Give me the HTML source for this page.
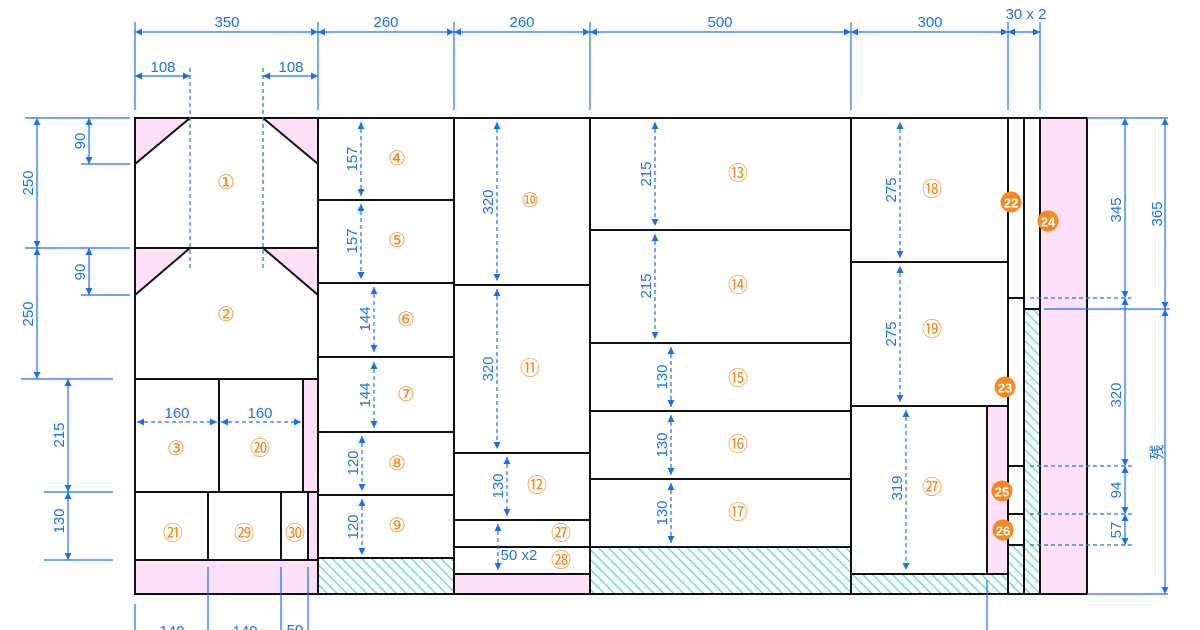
<!DOCTYPE html>
<html><head><meta charset="utf-8"><style>
html,body{margin:0;padding:0;background:#fff;width:1200px;height:630px;overflow:hidden}
svg{display:block}
.d{stroke:#1a6ff0;stroke-width:1.2;fill:none}
.dd{stroke:#1a6ff0;stroke-width:1.2;fill:none;stroke-dasharray:4 3}
.t{fill:#1a6ff0;font-family:"Liberation Sans",sans-serif;font-size:15px;text-anchor:middle}
.n{fill:#f5891f;font-family:"Liberation Sans","DejaVu Sans","Noto Sans CJK JP",sans-serif;font-size:20px;text-anchor:middle;dominant-baseline:central}
.b{stroke:#111;stroke-width:2;fill:none}
.pk{fill:#fde0f8}
.h{fill:url(#hat)}
.c{fill:#f5891f}
.ct{fill:#fff;font-family:"Liberation Sans",sans-serif;font-size:13px;font-weight:bold;text-anchor:middle;dominant-baseline:central}
</style></head><body>
<svg width="1200" height="630" viewBox="0 0 1200 630" xmlns="http://www.w3.org/2000/svg">
<defs>
<marker id="a" viewBox="0 0 10 10" refX="10" refY="5" markerWidth="7" markerHeight="7" orient="auto-start-reverse" markerUnits="userSpaceOnUse"><path d="M0,0L10,5L0,10z" fill="#1a6ff0"/></marker>
<pattern id="hat" patternUnits="userSpaceOnUse" width="7" height="7" patternTransform="rotate(-45)"><rect width="7" height="7" fill="#fff"/><line x1="0" y1="0" x2="0" y2="7" stroke="#6ee0c8" stroke-width="3"/></pattern>
</defs>

<rect class="pk" x="0" y="0" width="0" height="0"/>
<polygon class="pk" points="135,118 190,118 135,164"/>
<polygon class="pk" points="263,118 318,118 318,164"/>
<polygon class="pk" points="135,248 190,248 135,295"/>
<polygon class="pk" points="263,248 318,248 318,295"/>
<rect class="pk" x="303" y="379" width="15" height="113"/>
<rect class="pk" x="308" y="492" width="10" height="68"/>
<rect class="pk" x="135" y="560" width="183" height="34"/>
<rect class="h" x="318" y="558" width="136" height="36"/>
<rect class="pk" x="454" y="574" width="136" height="20"/>
<rect class="h" x="590" y="547" width="261" height="47"/>
<rect class="pk" x="987" y="406" width="21" height="168"/>
<rect class="h" x="851" y="574" width="157" height="20"/>
<rect class="h" x="1008" y="545" width="16" height="49"/>
<rect class="h" x="1024" y="309" width="16" height="285"/>
<rect class="pk" x="1040" y="118" width="47" height="476"/>

<g class="b">
<rect x="135" y="118" width="952" height="476"/>
<line x1="135" y1="164" x2="190" y2="118"/><line x1="263" y1="118" x2="318" y2="164"/>
<line x1="135" y1="295" x2="190" y2="248"/><line x1="263" y1="248" x2="318" y2="295"/>
<line x1="135" y1="248" x2="318" y2="248"/><line x1="135" y1="379" x2="318" y2="379"/>
<line x1="219" y1="379" x2="219" y2="492"/><line x1="303" y1="379" x2="303" y2="492"/>
<line x1="135" y1="492" x2="318" y2="492"/>
<line x1="208" y1="492" x2="208" y2="560"/><line x1="281" y1="492" x2="281" y2="560"/><line x1="308" y1="492" x2="308" y2="560"/>
<line x1="135" y1="560" x2="318" y2="560"/>
<line x1="318" y1="118" x2="318" y2="594"/>
<line x1="318" y1="200" x2="454" y2="200"/><line x1="318" y1="283" x2="454" y2="283"/><line x1="318" y1="357" x2="454" y2="357"/><line x1="318" y1="432" x2="454" y2="432"/><line x1="318" y1="495" x2="454" y2="495"/><line x1="318" y1="558" x2="454" y2="558"/>
<line x1="454" y1="118" x2="454" y2="594"/>
<line x1="454" y1="285" x2="590" y2="285"/><line x1="454" y1="453" x2="590" y2="453"/><line x1="454" y1="520" x2="590" y2="520"/><line x1="454" y1="547" x2="590" y2="547"/><line x1="454" y1="574" x2="590" y2="574"/>
<line x1="590" y1="118" x2="590" y2="594"/>
<line x1="590" y1="230" x2="851" y2="230"/><line x1="590" y1="343" x2="851" y2="343"/><line x1="590" y1="411" x2="851" y2="411"/><line x1="590" y1="479" x2="851" y2="479"/><line x1="590" y1="547" x2="851" y2="547"/>
<line x1="851" y1="118" x2="851" y2="594"/>
<line x1="851" y1="262" x2="1008" y2="262"/><line x1="851" y1="406" x2="1008" y2="406"/><line x1="987" y1="406" x2="987" y2="574"/><line x1="851" y1="574" x2="1008" y2="574"/>
<line x1="1008" y1="118" x2="1008" y2="594"/>
<line x1="1008" y1="298" x2="1024" y2="298"/><line x1="1008" y1="466" x2="1024" y2="466"/><line x1="1008" y1="514" x2="1024" y2="514"/><line x1="1008" y1="545" x2="1024" y2="545"/>
<line x1="1024" y1="118" x2="1024" y2="594"/>
<line x1="1024" y1="309" x2="1040" y2="309"/>
<line x1="1040" y1="118" x2="1040" y2="594"/>
</g>

<g class="d">
<line x1="135" y1="22" x2="135" y2="110"/><line x1="318" y1="22" x2="318" y2="110"/><line x1="454" y1="22" x2="454" y2="110"/><line x1="590" y1="22" x2="590" y2="110"/><line x1="851" y1="22" x2="851" y2="110"/><line x1="1008" y1="22" x2="1008" y2="110"/><line x1="1040" y1="22" x2="1040" y2="110"/>
<line x1="135" y1="32" x2="318" y2="32" marker-start="url(#a)" marker-end="url(#a)"/>
<line x1="318" y1="32" x2="454" y2="32" marker-start="url(#a)" marker-end="url(#a)"/>
<line x1="454" y1="32" x2="590" y2="32" marker-start="url(#a)" marker-end="url(#a)"/>
<line x1="590" y1="32" x2="851" y2="32" marker-start="url(#a)" marker-end="url(#a)"/>
<line x1="851" y1="32" x2="1008" y2="32" marker-start="url(#a)" marker-end="url(#a)"/>
<line x1="1008" y1="32" x2="1040" y2="32" marker-start="url(#a)" marker-end="url(#a)"/>
<line x1="135" y1="76" x2="190" y2="76" marker-start="url(#a)" marker-end="url(#a)"/>
<line x1="263" y1="76" x2="318" y2="76" marker-start="url(#a)" marker-end="url(#a)"/>
</g>
<g class="dd"><line x1="190" y1="68" x2="190" y2="270"/><line x1="263" y1="68" x2="263" y2="270"/></g>
<text class="t" x="227" y="27">350</text><text class="t" x="386" y="27">260</text><text class="t" x="522" y="27">260</text><text class="t" x="720" y="27">500</text><text class="t" x="930" y="27">300</text><text class="t" x="1026" y="19">30 x 2</text>
<text class="t" x="163" y="72">108</text><text class="t" x="291" y="72">108</text>

<g class="d">
<line x1="25" y1="118" x2="130" y2="118"/><line x1="25" y1="248" x2="130" y2="248"/><line x1="81" y1="164" x2="130" y2="164"/><line x1="81" y1="295" x2="130" y2="295"/>
<line x1="21" y1="379" x2="113" y2="379"/><line x1="44" y1="492" x2="113" y2="492"/><line x1="44" y1="560" x2="113" y2="560"/>
<line x1="37" y1="118" x2="37" y2="248" marker-start="url(#a)" marker-end="url(#a)"/>
<line x1="37" y1="248" x2="37" y2="379" marker-start="url(#a)" marker-end="url(#a)"/>
<line x1="89" y1="118" x2="89" y2="164" marker-start="url(#a)" marker-end="url(#a)"/>
<line x1="89" y1="248" x2="89" y2="295" marker-start="url(#a)" marker-end="url(#a)"/>
<line x1="68" y1="379" x2="68" y2="492" marker-start="url(#a)" marker-end="url(#a)"/>
<line x1="68" y1="492" x2="68" y2="560" marker-start="url(#a)" marker-end="url(#a)"/>
</g>
<text class="t" transform="translate(33,183) rotate(-90)">250</text>
<text class="t" transform="translate(33,314) rotate(-90)">250</text>
<text class="t" transform="translate(85,141) rotate(-90)">90</text>
<text class="t" transform="translate(85,272) rotate(-90)">90</text>
<text class="t" transform="translate(64,435) rotate(-90)">215</text>
<text class="t" transform="translate(64,521) rotate(-90)">130</text>

<g class="d"><line x1="135" y1="604" x2="135" y2="630"/><line x1="208" y1="567" x2="208" y2="630"/><line x1="281" y1="567" x2="281" y2="630"/><line x1="308" y1="567" x2="308" y2="630"/><line x1="987" y1="580" x2="987" y2="630"/></g>
<text class="t" x="172" y="636">140</text><text class="t" x="245" y="636">140</text><text class="t" x="295" y="635">50</text>

<g class="d">
<line x1="1087" y1="118" x2="1168" y2="118"/><line x1="1044" y1="309" x2="1170" y2="309"/><line x1="1087" y1="594" x2="1168" y2="594"/>
<line x1="1125" y1="118" x2="1125" y2="298" marker-start="url(#a)" marker-end="url(#a)"/>
<line x1="1125" y1="298" x2="1125" y2="466" marker-start="url(#a)" marker-end="url(#a)"/>
<line x1="1125" y1="466" x2="1125" y2="514" marker-start="url(#a)" marker-end="url(#a)"/>
<line x1="1125" y1="514" x2="1125" y2="545" marker-start="url(#a)" marker-end="url(#a)"/>
<line x1="1165" y1="118" x2="1165" y2="309" marker-start="url(#a)" marker-end="url(#a)"/>
<line x1="1165" y1="309" x2="1165" y2="594" marker-start="url(#a)" marker-end="url(#a)"/>
</g>
<g class="dd"><line x1="1030" y1="298" x2="1131" y2="298"/><line x1="1030" y1="466" x2="1132" y2="466"/><line x1="1030" y1="514" x2="1132" y2="514"/><line x1="1030" y1="545" x2="1132" y2="545"/></g>
<text class="t" transform="translate(1121,210) rotate(-90)">345</text>
<text class="t" transform="translate(1121,395) rotate(-90)">320</text>
<text class="t" transform="translate(1121,490) rotate(-90)">94</text>
<text class="t" transform="translate(1121,530) rotate(-90)">57</text>
<text class="t" transform="translate(1162,214) rotate(-90)">365</text>
<text class="t" style="font-family:'Noto Sans CJK JP',sans-serif;font-size:15px" transform="translate(1162,452) rotate(-90)">残</text>

<g class="dd">
<line x1="137" y1="422" x2="217" y2="422" marker-start="url(#a)" marker-end="url(#a)"/>
<line x1="221" y1="422" x2="301" y2="422" marker-start="url(#a)" marker-end="url(#a)"/>
<line x1="361" y1="122" x2="361" y2="196" marker-start="url(#a)" marker-end="url(#a)"/>
<line x1="361" y1="204" x2="361" y2="279" marker-start="url(#a)" marker-end="url(#a)"/>
<line x1="374" y1="287" x2="374" y2="352" marker-start="url(#a)" marker-end="url(#a)"/>
<line x1="374" y1="362" x2="374" y2="428" marker-start="url(#a)" marker-end="url(#a)"/>
<line x1="362" y1="436" x2="362" y2="491" marker-start="url(#a)" marker-end="url(#a)"/>
<line x1="362" y1="499" x2="362" y2="555" marker-start="url(#a)" marker-end="url(#a)"/>
<line x1="497" y1="122" x2="497" y2="281" marker-start="url(#a)" marker-end="url(#a)"/>
<line x1="497" y1="289" x2="497" y2="449" marker-start="url(#a)" marker-end="url(#a)"/>
<line x1="507" y1="457" x2="507" y2="516" marker-start="url(#a)" marker-end="url(#a)"/>
<line x1="498" y1="524" x2="498" y2="570" marker-start="url(#a)" marker-end="url(#a)"/>
<line x1="655" y1="122" x2="655" y2="226" marker-start="url(#a)" marker-end="url(#a)"/>
<line x1="655" y1="234" x2="655" y2="339" marker-start="url(#a)" marker-end="url(#a)"/>
<line x1="671" y1="347" x2="671" y2="407" marker-start="url(#a)" marker-end="url(#a)"/>
<line x1="671" y1="415" x2="671" y2="475" marker-start="url(#a)" marker-end="url(#a)"/>
<line x1="671" y1="483" x2="671" y2="543" marker-start="url(#a)" marker-end="url(#a)"/>
<line x1="900" y1="122" x2="900" y2="258" marker-start="url(#a)" marker-end="url(#a)"/>
<line x1="900" y1="266" x2="900" y2="402" marker-start="url(#a)" marker-end="url(#a)"/>
<line x1="906" y1="410" x2="906" y2="570" marker-start="url(#a)" marker-end="url(#a)"/>
</g>
<text class="t" x="177" y="418">160</text><text class="t" x="260" y="418">160</text>
<text class="t" transform="translate(357,159) rotate(-90)">157</text>
<text class="t" transform="translate(357,241) rotate(-90)">157</text>
<text class="t" transform="translate(370,319) rotate(-90)">144</text>
<text class="t" transform="translate(370,395) rotate(-90)">144</text>
<text class="t" transform="translate(358,463) rotate(-90)">120</text>
<text class="t" transform="translate(358,527) rotate(-90)">120</text>
<text class="t" transform="translate(493,202) rotate(-90)">320</text>
<text class="t" transform="translate(493,369) rotate(-90)">320</text>
<text class="t" transform="translate(503,486) rotate(-90)">130</text>
<text class="t" x="519" y="560">50 x2</text>
<text class="t" transform="translate(651,174) rotate(-90)">215</text>
<text class="t" transform="translate(651,286) rotate(-90)">215</text>
<text class="t" transform="translate(667,377) rotate(-90)">130</text>
<text class="t" transform="translate(667,445) rotate(-90)">130</text>
<text class="t" transform="translate(667,513) rotate(-90)">130</text>
<text class="t" transform="translate(896,190) rotate(-90)">275</text>
<text class="t" transform="translate(896,334) rotate(-90)">275</text>
<text class="t" transform="translate(902,488) rotate(-90)">319</text>

<text class="n" x="226" y="183">①</text>
<text class="n" x="226" y="315">②</text>
<text class="n" x="176" y="449">③</text>
<text class="n" x="397" y="159">④</text>
<text class="n" x="397" y="241">⑤</text>
<text class="n" x="406" y="320">⑥</text>
<text class="n" x="406" y="395">⑦</text>
<text class="n" x="397" y="464">⑧</text>
<text class="n" x="397" y="526">⑨</text>
<text class="n" x="530" y="201">⑩</text>
<text class="n" x="530" y="369">⑪</text>
<text class="n" x="537" y="486">⑫</text>
<text class="n" x="738" y="174">⑬</text>
<text class="n" x="738" y="286">⑭</text>
<text class="n" x="738" y="379">⑮</text>
<text class="n" x="738" y="445">⑯</text>
<text class="n" x="738" y="513">⑰</text>
<text class="n" x="932" y="190">⑱</text>
<text class="n" x="932" y="330">⑲</text>
<text class="n" x="260" y="449">⑳</text>
<text class="n" x="173" y="534">㉑</text>
<text class="n" x="244" y="534">㉙</text>
<text class="n" x="295" y="534">㉚</text>
<text class="n" x="561" y="534">㉗</text>
<text class="n" x="561" y="561">㉘</text>
<text class="n" x="932" y="488">㉗</text>

<circle class="c" cx="1011" cy="202" r="10.5"/><text class="ct" x="1011" y="203">22</text>
<circle class="c" cx="1005" cy="387" r="10.5"/><text class="ct" x="1005" y="388">23</text>
<circle class="c" cx="1048" cy="221" r="10.5"/><text class="ct" x="1048" y="222">24</text>
<circle class="c" cx="1002" cy="491" r="10.5"/><text class="ct" x="1002" y="492">25</text>
<circle class="c" cx="1003" cy="530" r="10.5"/><text class="ct" x="1003" y="531">26</text>
</svg>
</body></html>
